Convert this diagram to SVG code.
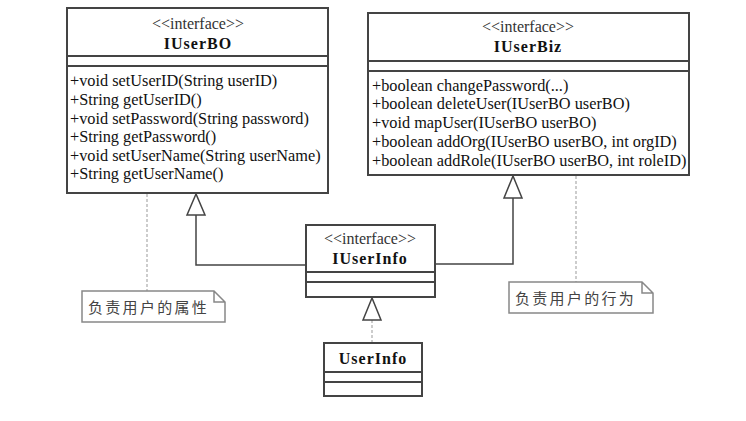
<svg xmlns="http://www.w3.org/2000/svg" width="746" height="421" viewBox="0 0 746 421">
<style>
.box{fill:#fff;stroke:#444;stroke-width:2}
.sep{stroke:#444;stroke-width:2}
.st{font-family:"Liberation Serif",serif;font-size:16px;fill:#333;text-anchor:middle}
.nm{font-family:"Liberation Serif",serif;font-size:16px;font-weight:bold;fill:#111;text-anchor:middle;letter-spacing:1px}
.m{font-family:"Liberation Serif",serif;font-size:16.3px;fill:#111}
.note{fill:#fff;stroke:#888;stroke-width:1.5}
.nt{font-family:"Noto Sans CJK SC",serif;font-size:15px;fill:#444;letter-spacing:2.3px}
.ln{fill:none;stroke:#444;stroke-width:1.5}
.dash{fill:none;stroke:#999;stroke-width:1;stroke-dasharray:3,2}
.tri{fill:#fff;stroke:#444;stroke-width:1.5}
</style>
<rect width="746" height="421" fill="#fff"/>
<g id="connectors">
<polyline class="ln" points="196,215 196,265 306,265"/>
<polygon class="tri" points="196,194 187,215 205,215"/>
<polyline class="ln" points="513,198 513,264 435,264"/>
<polygon class="tri" points="513,176 504,198 522,198"/>
<line class="dash" x1="372" y1="320" x2="372" y2="343"/>
<polygon class="tri" points="372,298 363,320 381,320"/>
<line class="dash" x1="147" y1="194" x2="147" y2="291"/>
<line class="dash" x1="576" y1="176" x2="576" y2="282"/>
</g>
<g id="IUserBO">
<rect class="box" x="67" y="8" width="261" height="185"/>
<line class="sep" x1="67" y1="56" x2="328" y2="56"/>
<line class="sep" x1="67" y1="66" x2="328" y2="66"/>
<text class="st" x="198" y="29">&lt;&lt;interface&gt;&gt;</text>
<text class="nm" x="198" y="49">IUserBO</text>
<text class="m" x="70" y="86">+void setUserID(String userID)</text>
<text class="m" x="70" y="105">+String getUserID()</text>
<text class="m" x="70" y="124">+void setPassword(String password)</text>
<text class="m" x="70" y="142">+String getPassword()</text>
<text class="m" x="70" y="161">+void setUserName(String userName)</text>
<text class="m" x="70" y="179">+String getUserName()</text>
</g>
<g id="IUserBiz">
<rect class="box" x="368" y="13" width="321" height="162"/>
<line class="sep" x1="368" y1="61" x2="689" y2="61"/>
<line class="sep" x1="368" y1="71" x2="689" y2="71"/>
<text class="st" x="528" y="32">&lt;&lt;interface&gt;&gt;</text>
<text class="nm" x="528" y="52">IUserBiz</text>
<text class="m" x="372" y="91">+boolean changePassword(...)</text>
<text class="m" x="372" y="109">+boolean deleteUser(IUserBO userBO)</text>
<text class="m" x="372" y="128">+void mapUser(IUserBO userBO)</text>
<text class="m" x="372" y="147">+boolean addOrg(IUserBO userBO, int orgID)</text>
<text class="m" x="372" y="166">+boolean addRole(IUserBO userBO, int roleID)</text>
</g>
<g id="IUserInfo">
<rect class="box" x="306" y="225" width="129" height="72"/>
<line class="sep" x1="306" y1="272" x2="435" y2="272"/>
<line class="sep" x1="306" y1="282" x2="435" y2="282"/>
<text class="st" x="370" y="244">&lt;&lt;interface&gt;&gt;</text>
<text class="nm" x="370" y="264">IUserInfo</text>
</g>
<g id="UserInfo">
<rect class="box" x="324" y="343" width="98" height="53"/>
<line class="sep" x1="324" y1="372" x2="422" y2="372"/>
<line class="sep" x1="324" y1="382" x2="422" y2="382"/>
<text class="nm" x="373" y="364">UserInfo</text>
</g>
<g id="note1">
<path class="note" d="M82,291 H214 L225,302 V322 H82 Z M214,291 V302 H225"/>
<text class="nt" x="88" y="313">负责用户的属性</text>
</g>
<g id="note2">
<path class="note" d="M509,282 H642 L653,293 V313 H509 Z M642,282 V293 H653"/>
<text class="nt" x="515" y="304">负责用户的行为</text>
</g>
</svg>
